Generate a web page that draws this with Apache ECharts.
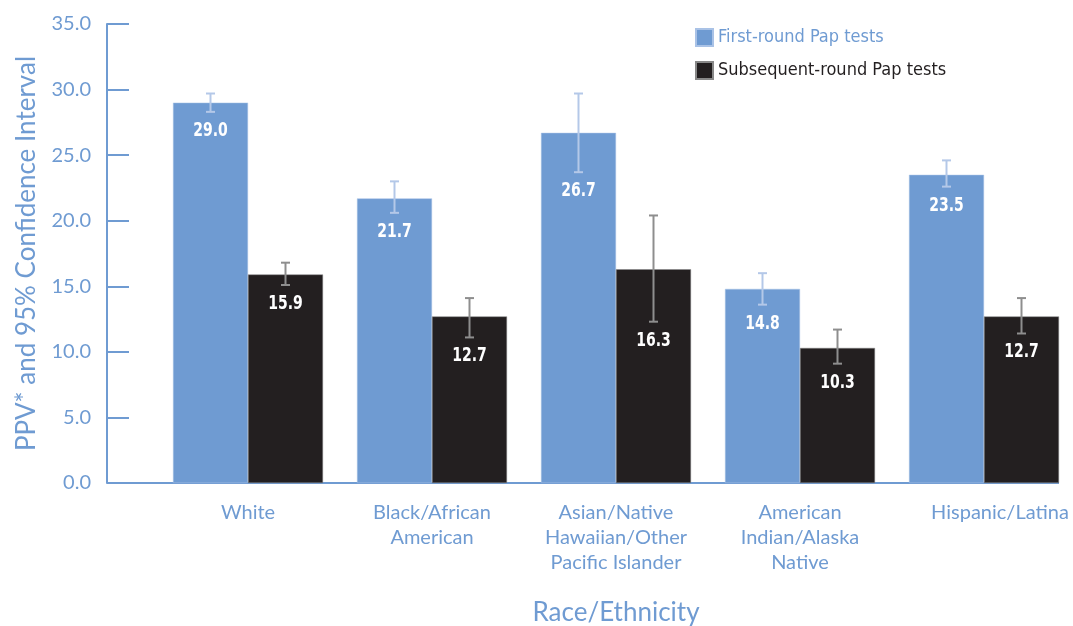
<!DOCTYPE html>
<html>
<head>
<meta charset="utf-8">
<script src="https://cdn.jsdelivr.net/npm/echarts@6/dist/echarts.min.js"></script>
<style>html,body{margin:0;padding:0;background:#fff}#c{width:1073px;height:626px}</style>
</head>
<body>
<div id="c"></div>
<script>
var categories = ['White', 'Black/African\nAmerican', 'Asian/Native\nHawaiian/Other\nPacific Islander', 'American\nIndian/Alaska\nNative', 'Hispanic/Latina'];
var firstRound = [29.0, 21.7, 26.7, 14.8, 23.5];
var firstLow = [28.3, 20.6, 23.7, 13.6, 22.6];
var firstHigh = [29.7, 23.0, 29.7, 16.0, 24.6];
var subsequent = [15.9, 12.7, 16.3, 10.3, 12.7];
var subLow = [15.1, 11.1, 12.3, 9.1, 11.4];
var subHigh = [16.8, 14.1, 20.4, 11.7, 14.1];
var yTicks = [0, 5, 10, 15, 20, 25, 30, 35];

var BLUE = '#6f9bd2';
var DARK = '#231f20';
var COND = '"DejaVu Sans Condensed", "Liberation Sans Narrow", sans-serif';
var GEO = 'Lato, sans-serif';
var BAR_W = 75;

function errItem(vals, lows, highs, sign, color) {
  return function (params, api) {
    var i = params.dataIndex;
    var c = api.coord([i, highs[i]]);
    var x = c[0] + sign * BAR_W / 2;
    var yH = c[1];
    var yL = api.coord([i, lows[i]])[1];
    var cap = 4.5;
    return {
      type: 'group',
      children: [
        {type: 'line', shape: {x1: x, y1: yH, x2: x, y2: yL}, style: {stroke: color, lineWidth: 2}},
        {type: 'line', shape: {x1: x - cap, y1: yH, x2: x + cap, y2: yH}, style: {stroke: color, lineWidth: 2}},
        {type: 'line', shape: {x1: x - cap, y1: yL, x2: x + cap, y2: yL}, style: {stroke: color, lineWidth: 2}},
        {type: 'text', x: x, y: yL + 19, scaleX: 0.82, style: {text: vals[i].toFixed(1), fill: '#fff', font: 'bold 19px ' + COND, align: 'center', verticalAlign: 'middle'}}
      ]
    };
  };
}

var catData = categories.map(function (c, i) {
  return i === categories.length - 1 ? {value: c, textStyle: {padding: [0, 0, 0, 32]}} : c;
});

var chart = echarts.init(document.getElementById('c'));
var option = {
  animation: false,
  backgroundColor: '#fff',
  grid: {left: 156, top: 24, width: 920, height: 459, outerBoundsMode: 'none', containLabel: false},
  legend: {
    orient: 'vertical', left: 690, top: 23,
    itemWidth: 17, itemHeight: 17, itemGap: 14,
    icon: 'rect',
    textStyle: {fontFamily: COND, fontSize: 18},
    data: [
      {name: 'First-round Pap tests', textStyle: {color: BLUE}},
      {name: 'Subsequent-round Pap tests', textStyle: {color: DARK}}
    ]
  },
  xAxis: {
    type: 'category', data: catData,
    name: 'Race/Ethnicity', nameLocation: 'middle', nameGap: 117,
    nameTextStyle: {color: BLUE, fontSize: 26, fontFamily: GEO},
    axisLine: {show: false}, axisTick: {show: false},
    axisLabel: {color: BLUE, fontSize: 20, lineHeight: 25, margin: 17, fontFamily: GEO, interval: 0}
  },
  yAxis: {
    type: 'value', min: 0, max: 35, interval: 5, offset: 49,
    name: 'PPV* and 95% Confidence Interval', nameLocation: 'middle', nameGap: 67,
    nameTextStyle: {color: BLUE, fontSize: 26, fontFamily: GEO},
    axisLine: {show: true, lineStyle: {color: BLUE, width: 2}},
    axisTick: {show: true, inside: true, length: 22, lineStyle: {color: BLUE, width: 2}},
    splitLine: {show: false},
    axisLabel: {color: BLUE, fontSize: 20, margin: 16, fontFamily: GEO,
      formatter: function (v) { return yTicks.indexOf(v) >= 0 ? v.toFixed(1) : ''; }}
  },
  series: [
    {name: 'First-round Pap tests', type: 'bar', data: firstRound, barWidth: BAR_W, barGap: '0%',
      itemStyle: {color: BLUE, borderColor: '#a9c2e6', borderWidth: 0.5}},
    {name: 'Subsequent-round Pap tests', type: 'bar', data: subsequent, barWidth: BAR_W, barGap: '0%',
      itemStyle: {color: DARK, borderColor: '#888', borderWidth: 0.5}},
    {type: 'custom', renderItem: errItem(firstRound, firstLow, firstHigh, -1, '#b4c8e8'),
      data: firstRound.map(function (v, i) { return [i, v]; }), z: 5, silent: true},
    {type: 'custom', renderItem: errItem(subsequent, subLow, subHigh, 1, '#8e8e8e'),
      data: subsequent.map(function (v, i) { return [i, v]; }), z: 5, silent: true}
  ]
};
chart.setOption(option);
var p0 = chart.convertToPixel({xAxisIndex: 0, yAxisIndex: 0}, [0, 0]);
var pEnd = chart.convertToPixel({xAxisIndex: 0, yAxisIndex: 0}, [categories.length - 1, 0]);
chart.setOption({
  graphic: [{type: 'line', z: 1, shape: {x1: 107, y1: p0[1], x2: pEnd[0] + BAR_W, y2: p0[1]},
    style: {stroke: BLUE, lineWidth: 2}}]
});
</script>
</body>
</html>
